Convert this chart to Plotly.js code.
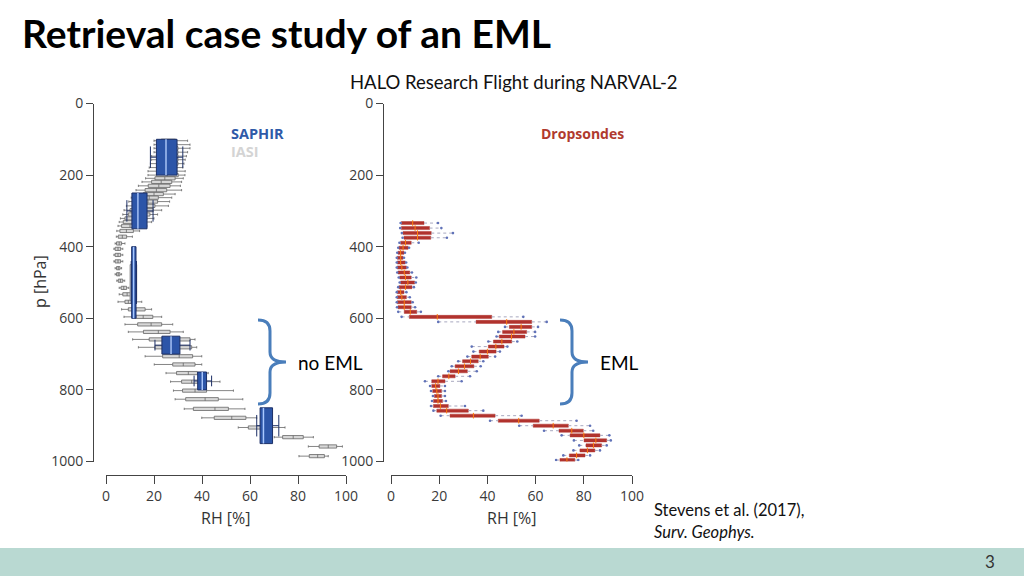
<!DOCTYPE html>
<html>
<head>
<meta charset="utf-8">
<script src="https://cdn.plot.ly/plotly-3.0.1.min.js"></script>
<style>
  html, body { margin: 0; padding: 0; background: #fff; }
  #chart { width: 1024px; height: 576px; }
</style>
</head>
<body>
<div id="chart"></div>
<script>
    // IASI retrieval, one box per level (pressure in hPa, RH in %)
    const iasiP = [104, 115, 125, 136, 147, 157, 168, 179, 189, 200, 209, 219, 230, 242, 253, 263, 274, 286, 298, 310,
                   321, 331, 342, 356, 372, 391, 406, 423, 441, 460, 477, 495, 515, 533, 554, 575, 596, 617, 638, 659,
                   681, 706, 729, 753, 777, 802, 826, 853, 878, 905, 932, 958, 985];
    const iasiQ1 = [23, 23, 23, 23, 22.5, 22.5, 22, 22, 21.5, 21.1, 20.4, 19, 17.6, 16.3, 15.6, 14.2, 13.2, 11.4, 10, 9.3,
                    7.9, 7.2, 6.5, 5.8, 5.1, 4.4, 3.8, 3.8, 3.8, 4.4, 4.4, 5.1, 6.3, 7, 7.9, 9.3, 12.5, 13.2, 15.6, 18,
                    20.4, 23.6, 27.8, 29.4, 31.5, 31.9, 33.2, 36.4, 45.1, 59.3, 73.6, 88.8, 84.7];
    const iasiMed = [26, 26, 26.5, 26.5, 26, 26, 25.5, 25.5, 25, 25.5, 24.5, 23, 22, 21, 20, 18, 17.5, 16, 14.5, 13.5,
                     12, 11, 10, 8.5, 6.8, 5.5, 5, 5, 5, 5.1, 5.1, 6, 7.4, 8.8, 9.3, 12.5, 15.5, 18.8, 21.8, 26,
                     28, 30.5, 32.2, 34.3, 35.7, 37.1, 41.3, 45.4, 52.4, 65, 78, 92.6, 88.2];
    const iasiQ3 = [29, 29.5, 30, 30, 30, 30, 30, 29.5, 29.5, 30.1, 28.8, 27.4, 26.7, 25.3, 23.9, 21.8, 21.5, 20.4, 19.7, 18.3,
                    17, 15.5, 14.2, 11.4, 8.6, 6.5, 6.1, 6.1, 6.1, 5.8, 5.8, 7, 8.6, 10.7, 10.7, 16.3, 19.5, 23.2, 26.7, 35,
                    35.7, 36.1, 37.1, 38.1, 38.5, 41.9, 46.8, 51, 58.3, 68, 82.2, 96.1, 91];
    const iasiLo = [20, 20, 20, 20, 19, 19, 18.5, 18, 17.5, 17.5, 16.5, 15, 13.5, 12.5, 11.5, 10.5, 9.5, 8.5, 7.5, 7,
                    6, 5.5, 5, 4.5, 4.3, 3.8, 3.3, 3.3, 3.3, 3.8, 3.8, 4.5, 5.5, 5.5, 5, 6.5, 7.5, 7.9, 9.3, 11.1,
                    13.5, 16.3, 20.1, 25, 26.9, 28.1, 28.8, 32.6, 39.9, 55.1, 70.1, 84.3, 80.4];
    const iasiHi = [34, 35, 35, 34, 33.5, 33, 32.5, 32, 33, 32.9, 32.2, 31.5, 31, 31.5, 28.8, 27.4, 26.5, 26, 23.2, 21.5,
                    20, 19, 17, 14, 11, 7.9, 7, 7, 7, 6.5, 6.5, 7.8, 9.5, 12, 14.9, 19, 23.2, 27.8, 32.2, 37.1,
                    37.8, 39.9, 39.9, 42.6, 47.5, 53.1, 57, 57.9, 62.8, 74.6, 86.4, 98.5, 92.6];

    // IASI layer mean partly hidden behind the SAPHIR layer
    const iasiLayerTop = [450];
    const iasiLayerBot = [550];
    const iasiLayerQ1 = [10];
    const iasiLayerMed = [11.4];
    const iasiLayerQ3 = [12.8];

    // SAPHIR layers
    const saphirTop = [100, 250, 400, 650, 750, 850];
    const saphirBot = [200, 350, 600, 700, 800, 950];
    const saphirQ1 = [21, 10.8, 10.7, 23.3, 38.2, 64.2];
    const saphirMed = [25, 13.3, 11.5, 27.1, 40.1, 65.6];
    const saphirQ3 = [29.6, 17.1, 12.5, 30.8, 41.9, 69.4];
    const saphirLo = [18.5, 8.7, 10.5, 20.4, 36.7, 62.8];
    const saphirHi = [32, 19.6, 12.7, 35, 44, 72];

    // Dropsondes
    const dropP = [334, 348, 362, 375, 389, 403, 417, 431, 444, 458, 472, 486, 500, 513, 527, 541, 555, 569, 582, 596,
                   610, 624, 638, 651, 665, 679, 693, 707, 720, 734, 748, 762, 776, 789, 803, 817, 831, 845, 858, 872,
                   886, 900, 914, 927, 941, 955, 969, 983, 996];
    const dropQ1 = [4.3, 4.3, 5, 5.4, 4, 3.3, 2.9, 2.6, 2.6, 2.6, 2.9, 3.6, 4, 3.3, 2.6, 2.6, 2.6, 2.9, 5.5, 7.6,
                    35.3, 49.1, 46.3, 44.9, 42.5, 40.4, 36.6, 33.5, 29.7, 26.6, 24.5, 21.4, 16.9, 16.9, 17.3, 18, 17.6, 17.6, 19, 24.5,
                    44.5, 59, 69.7, 74.3, 80.1, 80.9, 78.4, 74, 70.1];
    const dropMed = [9, 10, 11, 11, 6, 5, 4, 4, 4, 4.5, 5.5, 6, 7, 6, 4, 4.5, 5.5, 5.5, 8, 19.2,
                     48, 54, 51, 50, 46, 43.5, 40, 37, 33, 30.5, 28, 24, 19.5, 18.5, 19, 19.5, 19.5, 20.5, 23.1, 34.2,
                     53, 67.3, 75, 80, 85, 84, 81.5, 77, 73];
    const dropQ3 = [13.7, 16, 16.7, 16.5, 8.4, 7.1, 5.4, 5, 5.9, 6.4, 7.8, 8.4, 9.8, 8.7, 5.4, 6.4, 8.4, 8.4, 10.7, 41.8,
                    58.4, 58.4, 56.3, 55.6, 50.1, 46.9, 43.6, 40.4, 36.2, 34.4, 31.7, 26.6, 22.4, 20.3, 21, 21, 21.4, 23.8, 32.1, 43.2,
                    61.5, 73.6, 79.8, 86.7, 89.5, 87.4, 84.6, 80.5, 76.3];
    const dropLo = [4, 3.8, 4.5, 4.8, 3.5, 3, 2.6, 2.4, 2.4, 2.4, 2.6, 3.2, 3.6, 3, 2.4, 2.4, 2.4, 2.5, 3, 4.4,
                    19.6, 47.3, 44.5, 43.8, 40.4, 33.5, 34.2, 31.7, 27.9, 25.2, 23.8, 19.6, 14.1, 16.2, 16.6, 17.4, 17, 16.6, 17.6, 20.6,
                    41.1, 53.2, 63.5, 70.8, 75.9, 78.1, 75.7, 71.5, 68.5];
    const dropHi = [19.5, 20.9, 25.7, 23.2, 11.5, 7.5, 5.8, 5.4, 6.3, 6.8, 8.7, 10.5, 10.3, 9.5, 6.4, 7.8, 9, 10, 12.4, 54.9,
                    64.6, 61, 59.8, 59.8, 52.4, 48.3, 45.2, 43.2, 38.3, 37.2, 35.6, 32.8, 29.3, 22.4, 22.4, 22.4, 22.8, 30.7, 38.3, 54.2,
                    77, 82.6, 83.9, 90.6, 91.2, 89.5, 86.7, 82.6, 77.7];

    const rhTicks = [0, 20, 40, 60, 80, 100];
    const pTicks = [0, 200, 400, 600, 800, 1000];

    // pixel -> paper helpers (margins are zero, so paper == page)
    const W = 1024, H = 576;
    const px = x => x / W;
    const py = y => 1 - y / H;

    const traces = [];

    // IASI boxes
    traces.push({
        type: 'box', orientation: 'h', xaxis: 'x', yaxis: 'y',
        y: iasiP, q1: iasiQ1, median: iasiMed, q3: iasiQ3, lowerfence: iasiLo, upperfence: iasiHi,
        width: 9, whiskerwidth: 0.7, boxpoints: false,
        fillcolor: '#d8d8d8', line: { color: '#666666', width: 0.8 },
        hoverinfo: 'skip'
    });
    for (let i = 0; i < iasiLayerTop.length; i++) {
        traces.push({
            type: 'box', orientation: 'h', xaxis: 'x', yaxis: 'y',
            y: [(iasiLayerTop[i] + iasiLayerBot[i]) / 2],
            q1: [iasiLayerQ1[i]], median: [iasiLayerMed[i]], q3: [iasiLayerQ3[i]],
            lowerfence: [iasiLayerQ1[i]], upperfence: [iasiLayerQ3[i]],
            width: iasiLayerBot[i] - iasiLayerTop[i], whiskerwidth: 0, boxpoints: false,
            fillcolor: '#d8d8d8', line: { color: '#8a8a8a', width: 0.8 },
            hoverinfo: 'skip'
        });
    }

    // SAPHIR layer boxes
    for (let i = 0; i < saphirTop.length; i++) {
        traces.push({
            type: 'box', orientation: 'h', xaxis: 'x', yaxis: 'y',
            y: [(saphirTop[i] + saphirBot[i]) / 2],
            q1: [saphirQ1[i]], median: [saphirMed[i]], q3: [saphirQ3[i]],
            lowerfence: [saphirLo[i]], upperfence: [saphirHi[i]],
            width: saphirBot[i] - saphirTop[i], whiskerwidth: 0.6, boxpoints: false,
            fillcolor: '#2c55a8', line: { color: '#1c2f66', width: 1 },
            hoverinfo: 'skip'
        });
    }
    // light median stroke inside SAPHIR boxes
    const medX = [], medY = [];
    saphirMed.forEach((m, i) => { medX.push(m, m, null); medY.push(saphirTop[i], saphirBot[i], null); });
    traces.push({
        type: 'scatter', mode: 'lines', xaxis: 'x', yaxis: 'y',
        x: medX, y: medY, line: { color: '#a9c8ff', width: 1.5 }, hoverinfo: 'skip'
    });

    // Dropsonde boxes, then dotted whiskers, medians and end points
    const wx = [], wy = [];
    dropP.forEach((p, i) => {
        wx.push(dropLo[i], dropQ1[i], null, dropQ3[i], dropHi[i], null);
        wy.push(p, p, null, p, p, null);
    });
    traces.push({
        type: 'box', orientation: 'h', xaxis: 'x2', yaxis: 'y2',
        y: dropP, q1: dropQ1, median: dropMed, q3: dropQ3, lowerfence: dropQ1, upperfence: dropQ3,
        width: 8.5, whiskerwidth: 0, boxpoints: false,
        fillcolor: '#b1332e', line: { color: '#b1332e', width: 0.5 },
        hoverinfo: 'skip'
    });
    traces.push({
        type: 'scatter', mode: 'lines', xaxis: 'x2', yaxis: 'y2',
        x: wx, y: wy, line: { color: '#a8a8bf', width: 1, dash: 'dot' }, hoverinfo: 'skip'
    });
    traces.push({
        type: 'scatter', mode: 'markers', xaxis: 'x2', yaxis: 'y2',
        x: dropMed, y: dropP,
        marker: { symbol: 'line-ns-open', size: 4, line: { color: '#e9b3ad', width: 1 } }, hoverinfo: 'skip'
    });
    traces.push({
        type: 'scatter', mode: 'markers', xaxis: 'x2', yaxis: 'y2',
        x: dropLo.concat(dropHi), y: dropP.concat(dropP),
        marker: { color: '#6072b8', size: 2.6 }, hoverinfo: 'skip'
    });

    const tickFont = { family: 'Open Sans, sans-serif', size: 14, color: '#3a3a3a' };
    const yDom = [py(461.5), py(103.5)];
    const xAxisBase = {
        range: [0, 100], tickvals: rhTicks, ticks: 'outside', ticklen: 8, tickcolor: '#444',
        showline: true, linecolor: '#444', linewidth: 1, showgrid: false, zeroline: false,
        tickfont: tickFont, anchor: 'free', position: py(475), fixedrange: true
    };
    const yAxisBase = {
        range: [1000, 0], tickvals: pTicks, ticks: 'outside', ticklen: 7, tickcolor: '#444',
        showline: true, linecolor: '#444', linewidth: 1, showgrid: false, zeroline: false,
        tickfont: tickFont, domain: yDom, anchor: 'free', fixedrange: true
    };

    // curly bracket opening to the left, tip pointing right
    function brace(x0) {
        const P = (x, y) => px(x).toFixed(5) + ',' + py(y).toFixed(5);
        const path = [
            'M', P(x0, 320),
            'Q', P(x0 + 12, 320), P(x0 + 12, 331),
            'L', P(x0 + 12, 352),
            'Q', P(x0 + 12, 362), P(x0 + 28, 362),
            'Q', P(x0 + 12, 362), P(x0 + 12, 372),
            'L', P(x0 + 12, 393),
            'Q', P(x0 + 12, 404), P(x0, 404)
        ].join(' ');
        return { type: 'path', xref: 'paper', yref: 'paper', path: path, line: { color: '#4a7ebb', width: 3 } };
    }

    const slideFont = 'Lato, Open Sans, sans-serif';
    const figFont = 'Open Sans, sans-serif';
    const ann = (text, x, y, opts) => Object.assign({
        text: text, x: px(x), y: py(y), xref: 'paper', yref: 'paper',
        showarrow: false, xanchor: 'left', yanchor: 'middle'
    }, opts);

    const layout = {
        width: W, height: H,
        margin: { l: 0, r: 0, t: 0, b: 0 },
        paper_bgcolor: '#ffffff', plot_bgcolor: 'rgba(0,0,0,0)',
        showlegend: false, hovermode: false,
        xaxis: Object.assign({}, xAxisBase, { domain: [px(106), px(346)] }),
        yaxis: Object.assign({}, yAxisBase, { position: px(93) }),
        xaxis2: Object.assign({}, xAxisBase, { domain: [px(391), px(632)] }),
        yaxis2: Object.assign({}, yAxisBase, { position: px(383) }),
        shapes: [
            { type: 'rect', xref: 'paper', yref: 'paper', x0: 0, x1: 1, y0: 0, y1: py(548),
              fillcolor: '#b9d9d2', line: { width: 0 }, layer: 'below' },
            brace(258),
            brace(560)
        ],
        annotations: [
            ann('<b>Retrieval case study of an EML</b>', 20, 33, { font: { family: slideFont, size: 39, color: '#000' } }),
            ann('HALO Research Flight during NARVAL-2', 514, 82, { xanchor: 'center', font: { family: slideFont, size: 18.5, color: '#111' } }),
            ann('<b>SAPHIR</b>', 229, 133, { font: { family: figFont, size: 14.5, color: '#2f5aa8' } }),
            ann('<b>IASI</b>', 229, 152, { font: { family: figFont, size: 14.5, color: '#d4d4d4' } }),
            ann('<b>Dropsondes</b>', 539, 133, { font: { family: figFont, size: 14, color: '#b03a2e' } }),
            ann('p [hPa]', 40, 282, { xanchor: 'center', textangle: -90, font: { family: figFont, size: 16, color: '#333' } }),
            ann('RH [%]', 226, 518, { xanchor: 'center', font: { family: figFont, size: 16, color: '#333' } }),
            ann('RH [%]', 512, 518, { xanchor: 'center', font: { family: figFont, size: 16, color: '#333' } }),
            ann('no EML', 296, 362, { font: { family: slideFont, size: 19, color: '#000' } }),
            ann('EML', 598, 362, { font: { family: slideFont, size: 19, color: '#000' } }),
            ann('Stevens et al. (2017),', 652, 510, { font: { family: slideFont, size: 16.5, color: '#111' } }),
            ann('<i>Surv. Geophys.</i>', 652, 532, { font: { family: slideFont, size: 16.5, color: '#111' } }),
            ann('3', 990, 561, { xanchor: 'center', font: { family: slideFont, size: 17, color: '#333' } })
        ]
    };

    Plotly.newPlot('chart', traces, layout, { displayModeBar: false, staticPlot: true });
</script>
</body>
</html>
